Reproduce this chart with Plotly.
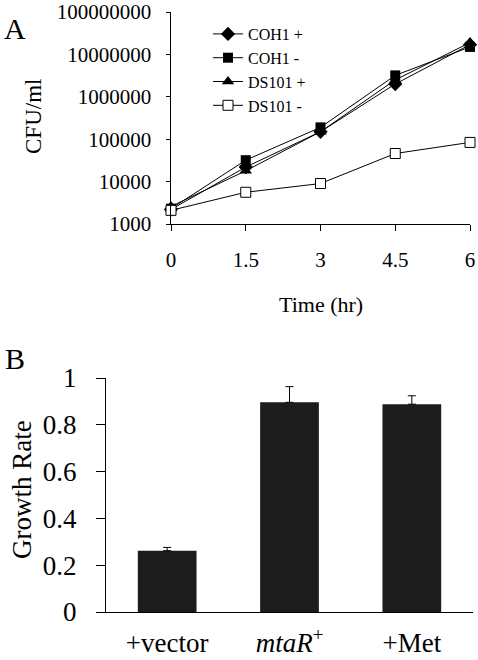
import plotly.graph_objects as go

W, H = 478, 660

# ---- Panel A data ----
time_hr = [0, 1.5, 3, 4.5, 6]
coh1_plus = [2200, 22000, 150000, 2000000, 17000000]
coh1_minus = [2300, 32000, 190000, 3200000, 15000000]
ds101_plus = [2600, 18000, 150000, 2500000, 19000000]
ds101_minus = [2100, 5600, 9000, 46000, 84000]
a_tick_vals = [1000, 10000, 100000, 1000000, 10000000, 100000000]
a_tick_text = ["1000", "10000", "100000", "1000000", "10000000", "100000000"]
x_tick_vals = [0, 1.5, 3, 4.5, 6]
x_tick_text = ["0", "1.5", "3", "4.5", "6"]

# ---- Panel B data ----
conditions = ["+vector", "<i>mtaR</i><sup>+</sup>", "+Met"]
growth_rate = [0.262, 0.896, 0.888]
growth_err = [0.014, 0.067, 0.036]

FONT = "Liberation Serif"
PAD = "\u2002"  # keeps the log-axis labels clear of the axis line

def px_x(p):
    return p / W

def px_y(p):
    return 1 - p / H

fig = go.Figure()

series = [
    ("COH1 +", coh1_plus, dict(symbol="diamond", size=11, color="black")),
    ("COH1 -", coh1_minus, dict(symbol="square", size=10, color="black")),
    ("DS101 +", ds101_plus, dict(symbol="triangle-up", size=11, color="black")),
    ("DS101 -", ds101_minus, dict(symbol="square", size=10, color="white",
                                  line=dict(color="black", width=1))),
]
for i, (name, vals, mk) in enumerate(series):
    fig.add_trace(go.Scatter(
        x=time_hr, y=vals, name=name, mode="lines+markers",
        line=dict(color="black", width=1), marker=mk,
        xaxis="x", yaxis="y", legendgroup=f"g{i}", cliponaxis=False,
    ))

fig.add_trace(go.Bar(
    x=[0, 1, 2], y=growth_rate, width=0.48,
    marker=dict(color="#1c1c1c", line=dict(width=0)),
    error_y=dict(type="data", symmetric=False, array=growth_err,
                 arrayminus=[0, 0, 0], color="black", thickness=1, width=4),
    xaxis="x2", yaxis="y2", showlegend=False,
))

common = dict(showgrid=False, zeroline=False, automargin=False,
              showline=True, linecolor="black", linewidth=1, tickcolor="black")

fig.update_layout(
    width=W, height=H,
    margin=dict(l=0, r=0, t=0, b=0, autoexpand=False),
    paper_bgcolor="white", plot_bgcolor="white",
    font=dict(family=FONT, color="black"),
    showlegend=True,
    legend=dict(x=px_x(208), y=px_y(17), xanchor="left", yanchor="top",
                font=dict(size=16, family=FONT, color="black"), tracegroupgap=0,
                bgcolor="rgba(0,0,0,0)"),
    xaxis=dict(domain=[px_x(171), px_x(470)], range=[0, 6],
               anchor="y", tickvals=x_tick_vals, ticktext=x_tick_text,
               ticks="outside", ticklen=6, ticklabelstandoff=11,
               tickfont=dict(size=21, family=FONT), **common),
    yaxis=dict(domain=[px_y(224), px_y(12)], type="log", range=[3, 8],
               anchor="x", tickvals=a_tick_vals,
               ticktext=[t + PAD for t in a_tick_text],
               ticks="outside", ticklen=4,
               tickfont=dict(size=21, family=FONT), **common),
    xaxis2=dict(domain=[px_x(106), px_x(473)], range=[-0.5, 2.5],
                anchor="y2", tickvals=[0, 1, 2], ticktext=conditions,
                ticks="", ticklabelstandoff=7,
                tickfont=dict(size=27, family=FONT), **common),
    yaxis2=dict(domain=[px_y(612), px_y(378)], range=[0, 1],
                anchor="x2", tickvals=[0, 0.2, 0.4, 0.6, 0.8, 1],
                ticktext=["0", "0.2", "0.4", "0.6", "0.8", "1"],
                ticks="outside", ticklen=9, ticklabelstandoff=14,
                tickfont=dict(size=27, family=FONT), **common),
)

annots = [
    dict(text="A", x=px_x(15), y=px_y(28), size=30, angle=0),
    dict(text="B", x=px_x(15), y=px_y(358), size=30, angle=0),
    dict(text="CFU/ml", x=px_x(34), y=px_y(117), size=23, angle=-90),
    dict(text="Time (hr)", x=px_x(321), y=px_y(304), size=22, angle=0),
    dict(text="Growth Rate", x=px_x(22), y=px_y(490), size=27, angle=-90),
]
for a in annots:
    fig.add_annotation(text=a["text"], x=a["x"], y=a["y"], xref="paper", yref="paper",
                       xanchor="center", yanchor="middle", showarrow=False,
                       textangle=a["angle"], font=dict(size=a["size"], family=FONT, color="black"))

fig.write_html("out.html", config={"displayModeBar": False},
               post_script="document.body.style.margin='0';document.body.style.padding='0';document.body.style.overflow='hidden';")
